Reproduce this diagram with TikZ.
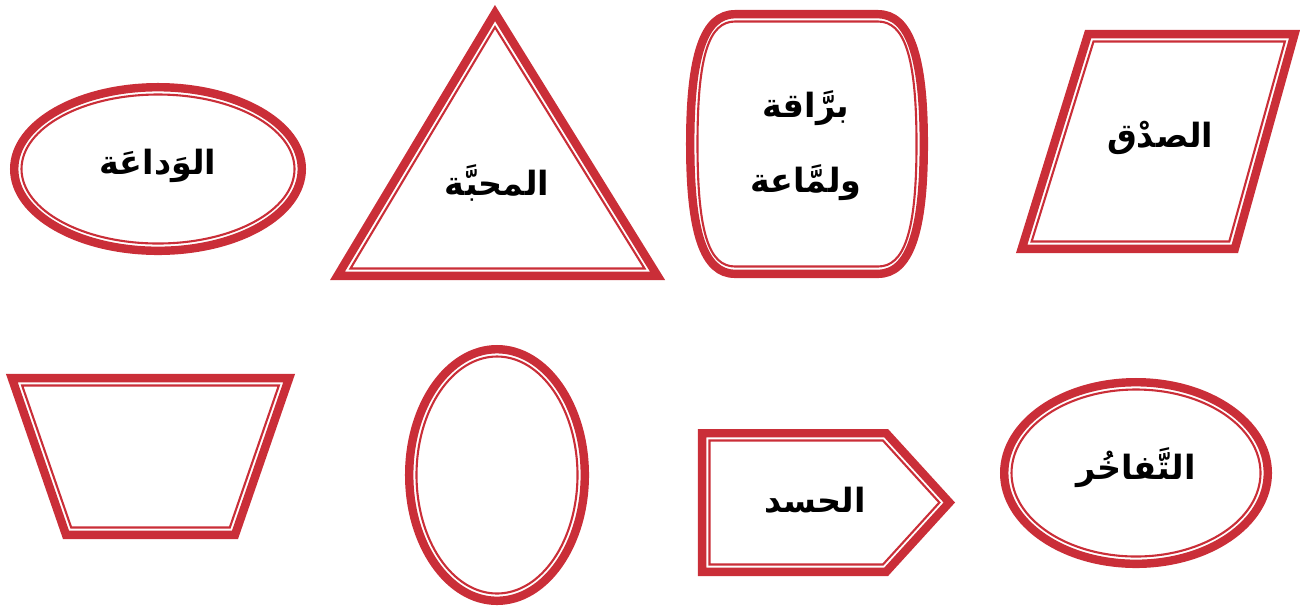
\documentclass[tikz,border=0pt]{standalone}
\usepackage{fontspec}
\newfontfamily\arabicfont[Script=Arabic]{DejaVu Sans}
\TeXXeTstate=1
\definecolor{bandred}{RGB}{202,46,56}

% outlines, #1 = inset from the outer edge
\newcommand{\triangpath}[1]{(495,{5+1.923*#1}) -- ({665-1.78*#1},{280-#1}) -- ({330+1.78*#1},{280-#1}) -- cycle}
\newcommand{\barrelpath}[1]{(735,{10+#1}) -- (878,{10+#1})
  .. controls ({912-0.7*#1},{10+#1}) and ({928-#1},55) .. ({928-#1},144)
  .. controls ({928-#1},233) and ({912-0.7*#1},{278-#1}) .. (878,{278-#1})
  -- (735,{278-#1})
  .. controls ({701+0.7*#1},{278-#1}) and ({686+#1},233) .. ({686+#1},144)
  .. controls ({686+#1},55) and ({701+0.7*#1},{10+#1}) .. (735,{10+#1}) -- cycle}
\newcommand{\slantpath}[1]{({1085+0.738*#1},{30+#1}) -- ({1300-1.316*#1},{30+#1}) -- ({1238-0.76*#1},{253-#1}) -- ({1016+1.356*#1},{253-#1}) -- cycle}
\newcommand{\trapezpath}[1]{({6+1.403*#1},{374+#1}) -- ({295-1.403*#1},{374+#1}) -- ({238-0.713*#1},{539-#1}) -- ({63+0.713*#1},{539-#1}) -- cycle}
\newcommand{\signalpath}[1]{({698+#1},{429+#1}) -- ({888-0.439*#1},{429+#1}) -- ({955-1.357*#1},502.5) -- ({888-0.439*#1},{576-#1}) -- ({698+#1},{576-#1}) -- cycle}

\begin{document}
\begin{tikzpicture}[
    x=0.02cm, y=-0.02cm,
    rim/.style={draw=bandred,line width=4.8pt,line join=miter},
    thinrim/.style={draw=bandred,line width=1.2pt,line join=miter},
    word/.style={font=\arabicfont\bfseries\fontsize{19}{24}\selectfont,align=center,inner sep=0pt}
]
\useasboundingbox (0,0) rectangle (1300,610);

% top row
\draw[rim] (158,169) ellipse [x radius=143.8, y radius=81.8];
\draw[thinrim] (158,169) ellipse [x radius=136.5, y radius=74.5];
\node[word] (gentle) at (158,166) {\beginR الوَداعَة\endR};

\draw[rim] \triangpath{4.2};
\draw[thinrim] \triangpath{11.5};
\node[word] (love) at (497,183) {\beginR المحبَّة\endR};

\draw[rim] \barrelpath{4.2};
\draw[thinrim] \barrelpath{11.5};
\node[word] (shiny) at (806,146) {\beginR برَّاقة\endR\\[19pt]\beginR ولمَّاعة\endR};

\draw[rim] \slantpath{4.2};
\draw[thinrim] \slantpath{11.5};
\node[word] (truth) at (1160,138) {\beginR الصدْق\endR};

% bottom row
\draw[rim] \trapezpath{4.2};
\draw[thinrim] \trapezpath{11.5};

\draw[rim] (497,475) ellipse [x radius=87.8, y radius=125.8];
\draw[thinrim] (497,475) ellipse [x radius=80.5, y radius=118.5];

\draw[rim] \signalpath{4.2};
\draw[thinrim] \signalpath{11.5};
\node[word] (envy) at (815,500) {\beginR الحسد\endR};

\draw[rim] (1136,473) ellipse [x radius=131.8, y radius=90.8];
\draw[thinrim] (1136,473) ellipse [x radius=124.5, y radius=83.5];
\node[word] (pride) at (1136,468) {\beginR التَّفاخُر\endR};
\end{tikzpicture}
\end{document}
